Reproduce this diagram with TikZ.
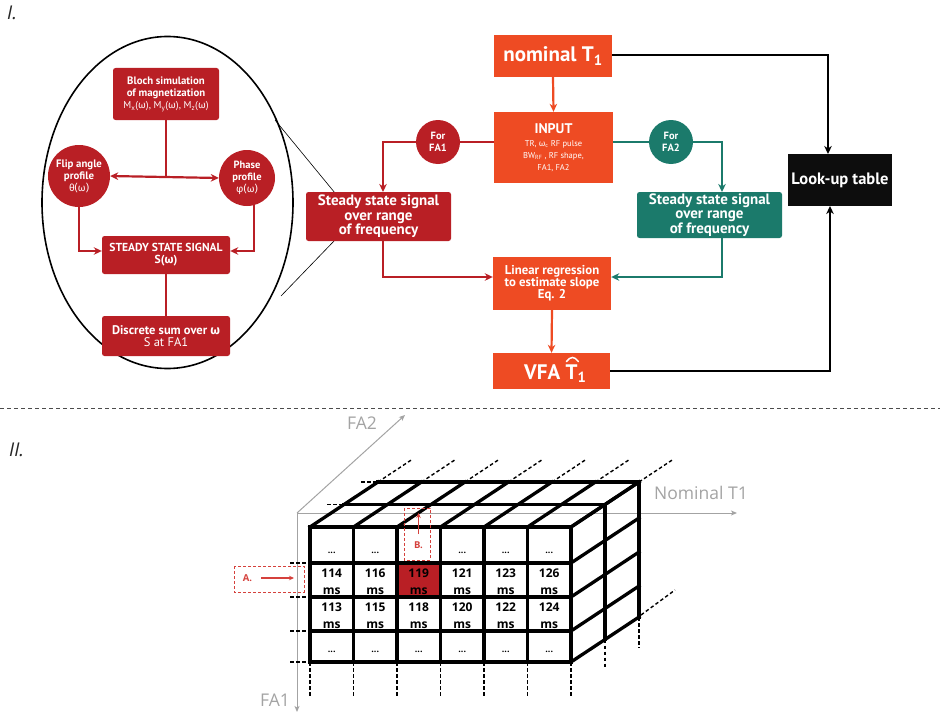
\documentclass[tikz,border=0pt]{standalone}
\usepackage{fontspec}
\setmainfont{PT Sans}
\newfontfamily\grk{Fira Sans}
\newfontfamily\osans{Open Sans}
\usetikzlibrary{arrows.meta,calc}
\definecolor{dred}{HTML}{B91F25}
\definecolor{org}{HTML}{EE4B23}
\definecolor{tealc}{HTML}{1B7A6B}
\definecolor{lred}{HTML}{D5413C}
\definecolor{axg}{HTML}{A3A3A3}
\newcommand{\om}{{\grk ω}}
\newcommand{\fs}[2]{\fontsize{#1}{#2}\selectfont}
\tikzset{
  redbox/.style={fill=dred, text=white, rounded corners=2.5pt, align=center, inner sep=0pt, font=\bfseries},
  redcirc/.style={circle, fill=dred, text=white, align=center, inner sep=0pt, font=\bfseries},
  tealcirc/.style={circle, fill=tealc, text=white, align=center, inner sep=0pt, font=\bfseries},
  orbox/.style={fill=org, text=white, align=center, inner sep=0pt, font=\bfseries},
  tealbox/.style={fill=tealc, text=white, rounded corners=2.5pt, align=center, inner sep=0pt, font=\bfseries},
  blkbox/.style={fill=black!95, text=white, align=center, inner sep=0pt, font=\bfseries},
  arr/.style={-{Stealth[length=8pt,width=7.5pt,inset=2.5pt]}},
  darr/.style={{Stealth[length=8pt,width=7.5pt,inset=2.5pt]}-{Stealth[length=8pt,width=7.5pt,inset=2.5pt]}},
  conn/.style={line width=2.2pt},
  cube/.style={line width=3.3pt, line cap=rect},
  cdash/.style={line width=1.4pt, dash pattern=on 3.5pt off 2.5pt},
  axis/.style={draw=axg, line width=1pt, -{Stealth[length=6pt,width=5pt,inset=1.5pt]}},
  axlab/.style={text=axg, font=\osans\fs{17.5}{19}, inner sep=0pt},
  num/.style={font=\osans\bfseries\fs{12}{13}, inner sep=0pt},
  dots/.style={font=\osans\bfseries\fs{9}{10}, inner sep=0pt},
  lbl/.style={font=\osans\itshape\fs{19}{21}, text=black!85, inner sep=0pt},
  bigw/.style={text=white, font=\bfseries\fs{21}{22}, inner sep=0pt},
  sstxt/.style={font=\bfseries\fs{15}{14.5}},
}
\begin{document}
\begin{tikzpicture}[x=1pt,y=-1pt]
\useasboundingbox (0,0) rectangle (940,717);

% ---------------- Part I ----------------
\node[lbl, anchor=north west] (labI) at (7,6) {I.};

% zoom ellipse
\draw[line width=1.6pt] (167.5,202.5) ellipse [x radius=125.5pt, y radius=166pt];
\coordinate (zt) at (275,120);
\coordinate (zb) at (281,296);

% left (inset) nodes
\node[redbox, minimum width=106pt, minimum height=52pt] (bloch) at (166,94)
  {\fs{10.8}{12.5}Bloch simulation\\\fs{10.8}{12.5}of magnetization\\[0.5pt]{\mdseries\fs{10}{11.5}M\textsubscript{x}(\om), M\textsubscript{y}(\om), M\textsubscript{z}(\om)}};
\node[redcirc, minimum size=62pt] (flip) at (79,176)
  {\fs{10.8}{13}Flip angle\\\fs{10.8}{13}profile\\{\mdseries\fs{10}{13}{\grk θ(ω)}}};
\node[redcirc, minimum size=56pt] (phase) at (247,178)
  {\fs{10.5}{13}Phase\\\fs{10.5}{13}profile\\{\mdseries\fs{10}{13}{\grk φ(ω)}}};
\node[redbox, minimum width=128pt, minimum height=38pt] (sss) at (166,255)
  {\fs{11.6}{13}STEADY STATE SIGNAL\\\fs{11.6}{13}S(\om)};
\node[redbox, minimum width=128pt, minimum height=40pt] (dsum) at (166,336)
  {\fs{12.5}{14}Discrete sum over \om\\{\mdseries\fs{12.5}{14}S at FA1}};

\draw[conn, dred] (bloch.south) -- (166,176) coordinate (mid);
\draw[conn, dred, darr] (flip.east) -- (phase.west);
\draw[conn, dred, arr] (79,207) -- (79,251) -- (sss.west |- 0,251);
\draw[conn, dred, arr] (254,205) -- (254,251) -- (sss.east |- 0,251);
\draw[conn, dred] (sss.south) -- (dsum.north);

% main flow
\draw[line width=0.6pt] (zt) -- (335,193);
\draw[line width=0.6pt] (zb) -- (335,240);
\node[redbox, minimum width=145pt, minimum height=49pt, sstxt] (ssf1) at (378.5,216.5)
  {Steady state signal\\over range\\of frequency};

\node[orbox, minimum width=118pt, minimum height=42pt] (nom) at (553,56)
  {\fs{21}{22}nominal T\textsubscript{1}};
\node[orbox, minimum width=119pt, minimum height=71pt] (inp) at (553.5,147.5)
  {\fs{14}{15}INPUT\\[1pt]{\mdseries\fs{8.5}{12.5}TR, \om\textsubscript{c} RF pulse}\\{\mdseries\fs{8.5}{12.5}BW\textsubscript{RF} , RF shape,}\\{\mdseries\fs{8.5}{12.5}FA1, FA2}};
\node[orbox, minimum width=118pt, minimum height=53pt] (lin) at (552,283.5)
  {\fs{12.8}{15.5}Linear regression\\\fs{12.8}{15.5}to estimate slope\\\fs{12.8}{15.5}Eq. 2};
\node[orbox, minimum width=117pt, minimum height=36pt] (vfa) at (551.5,371) {};
\node[bigw, anchor=base west] (vfaA) at (524,379) {VFA};
\node[bigw, anchor=base west] (vfaT) at ($(vfaA.base east)+(5,0)$) {T\textsubscript{1}};
\draw[white, line width=1.5pt, line cap=round] ($(vfaT.north west)+(1,-2.5)$) .. controls ($(vfaT.north west)+(5,-8)$) and ($(vfaT.north west)+(9,-8)$) .. ($(vfaT.north west)+(13,-2.5)$);
\node[tealbox, minimum width=145pt, minimum height=46pt, sstxt] (ssf2) at (709.5,215)
  {Steady state signal\\over range\\of frequency};
\node[blkbox, minimum width=104pt, minimum height=52pt] (lut) at (840,180)
  {\fs{16.5}{18}Look-up table};

\draw[conn, org, arr] (nom.south) -- (inp.north);
\draw[conn, dred, arr] (inp.west |- 0,142) -- (383,142) -- (383,192);
\node[redcirc, minimum size=44pt] (fa1) at (438,142) {\fs{10.5}{12.5}For\\\fs{10.5}{12.5}FA1};
\draw[conn, tealc, arr] (inp.east |- 0,142) -- (722,142) -- (722,192);
\node[tealcirc, minimum size=44pt] (fa2) at (671,142) {\fs{10.5}{12.5}For\\\fs{10.5}{12.5}FA2};
\draw[conn, dred, arr] (383,241) -- (383,277) -- (lin.west |- 0,277);
\draw[conn, tealc, arr] (722,238) -- (722,277) -- (lin.east |- 0,277);
\draw[conn, org, arr] (lin.south) -- (vfa.north);
\draw[conn, black, arr] (nom.east |- 0,55) -- (828,55) -- (828,154);
\draw[conn, black, arr] (vfa.east |- 0,371) -- (830,371) -- (830,206);

% separator
\draw[black!70, line width=0.9pt, dash pattern=on 4pt off 3pt] (0,408) -- (940,408);

% ---------------- Part II ----------------
\node[lbl, anchor=north west] (labII) at (9,443) {II.};

\coordinate (O) at (297,513);
\draw[axis] (O) -- (297,712);
\draw[axis] (O) -- (737,513);
\draw[axis] (O) -- (405,415);
\node[axlab] (fa2lab) at (362,423) {FA2};
\node[axlab] (t1lab) at (701,493) {Nominal T1};
\node[axlab] (fa1lab) at (275,700) {FA1};

% highlighted cell
\fill[dred] (397,563) rectangle (440.5,597);

% cube grid
\foreach \x in {310,353.5,397,440.5,484,527.5,571} {
  \draw[cube] (\x,527) -- (\x,662);
  \draw[cube] (\x,527) -- ++(68,-45);
  \draw[cdash] (\x+68,482) -- ++(34,-22.5);
  \draw[cdash] (\x,662) -- (\x,697);
}
\foreach \y in {527,563,597,631,662} {
  \draw[cube] (310,\y) -- (571,\y);
  \draw[cube] (571,\y) -- ++(68,-45);
}
\foreach \y in {563,597,631,662} \draw[cdash] (290,\y) -- (310,\y);
\draw[cube] (344,504.5) -- (605,504.5);
\draw[cube] (378,482) -- (639,482);
\draw[cube] (605,504.5) -- (605,639.5);
\draw[cube] (639,482) -- (639,617);
\draw[cdash] (327,504.5) -- (344,504.5);
\draw[cdash] (361,482) -- (378,482);
\draw[cdash] (605,639.5) -- (605,667);
\draw[cdash] (639,617) -- (639,648);
\draw[cdash] (641,615) -- ++(34,-25);

% cell texts
\foreach \c/\a/\b [count=\i] in {331.75/114/113, 375.25/116/115, 418.75/119/118, 462.25/121/120, 505.75/123/122, 549.25/126/124} {
  \ifnum\i=3\relax\else\node[dots] (d1\i) at (\c,553) {...};\fi
  \node[num] (n2\i) at (\c,573) {\a};
  \node[num] (m2\i) at (\c,591) {ms};
  \node[num] (n3\i) at (\c,607) {\b};
  \node[num] (m3\i) at (\c,625.5) {ms};
  \node[dots] (d4\i) at (\c,652) {...};
}

% red dashed markers
\draw[lred, line width=1pt, dash pattern=on 3pt off 2pt] (234,566) rectangle (304,592);
\node[text=lred, font=\osans\bfseries\fs{9.5}{10}, inner sep=0pt] (A) at (247.5,578) {A.};
\coordinate (Aend) at (294,578);
\draw[lred, line width=1.2pt, -{Stealth[length=5pt,width=4.5pt]}] (261,578) -- (Aend);
\draw[lred, line width=1pt, dash pattern=on 3pt off 2pt] (404,508) rectangle (430,560);
\node[text=lred, font=\osans\bfseries\fs{9.5}{10}, inner sep=0pt] (B) at (418.5,545) {B.};
\coordinate (Bend) at (418.5,513);
\draw[lred, line width=1.2pt, -{Stealth[length=5pt,width=4.5pt]}] (418.5,534) -- (Bend);
\end{tikzpicture}
\end{document}
